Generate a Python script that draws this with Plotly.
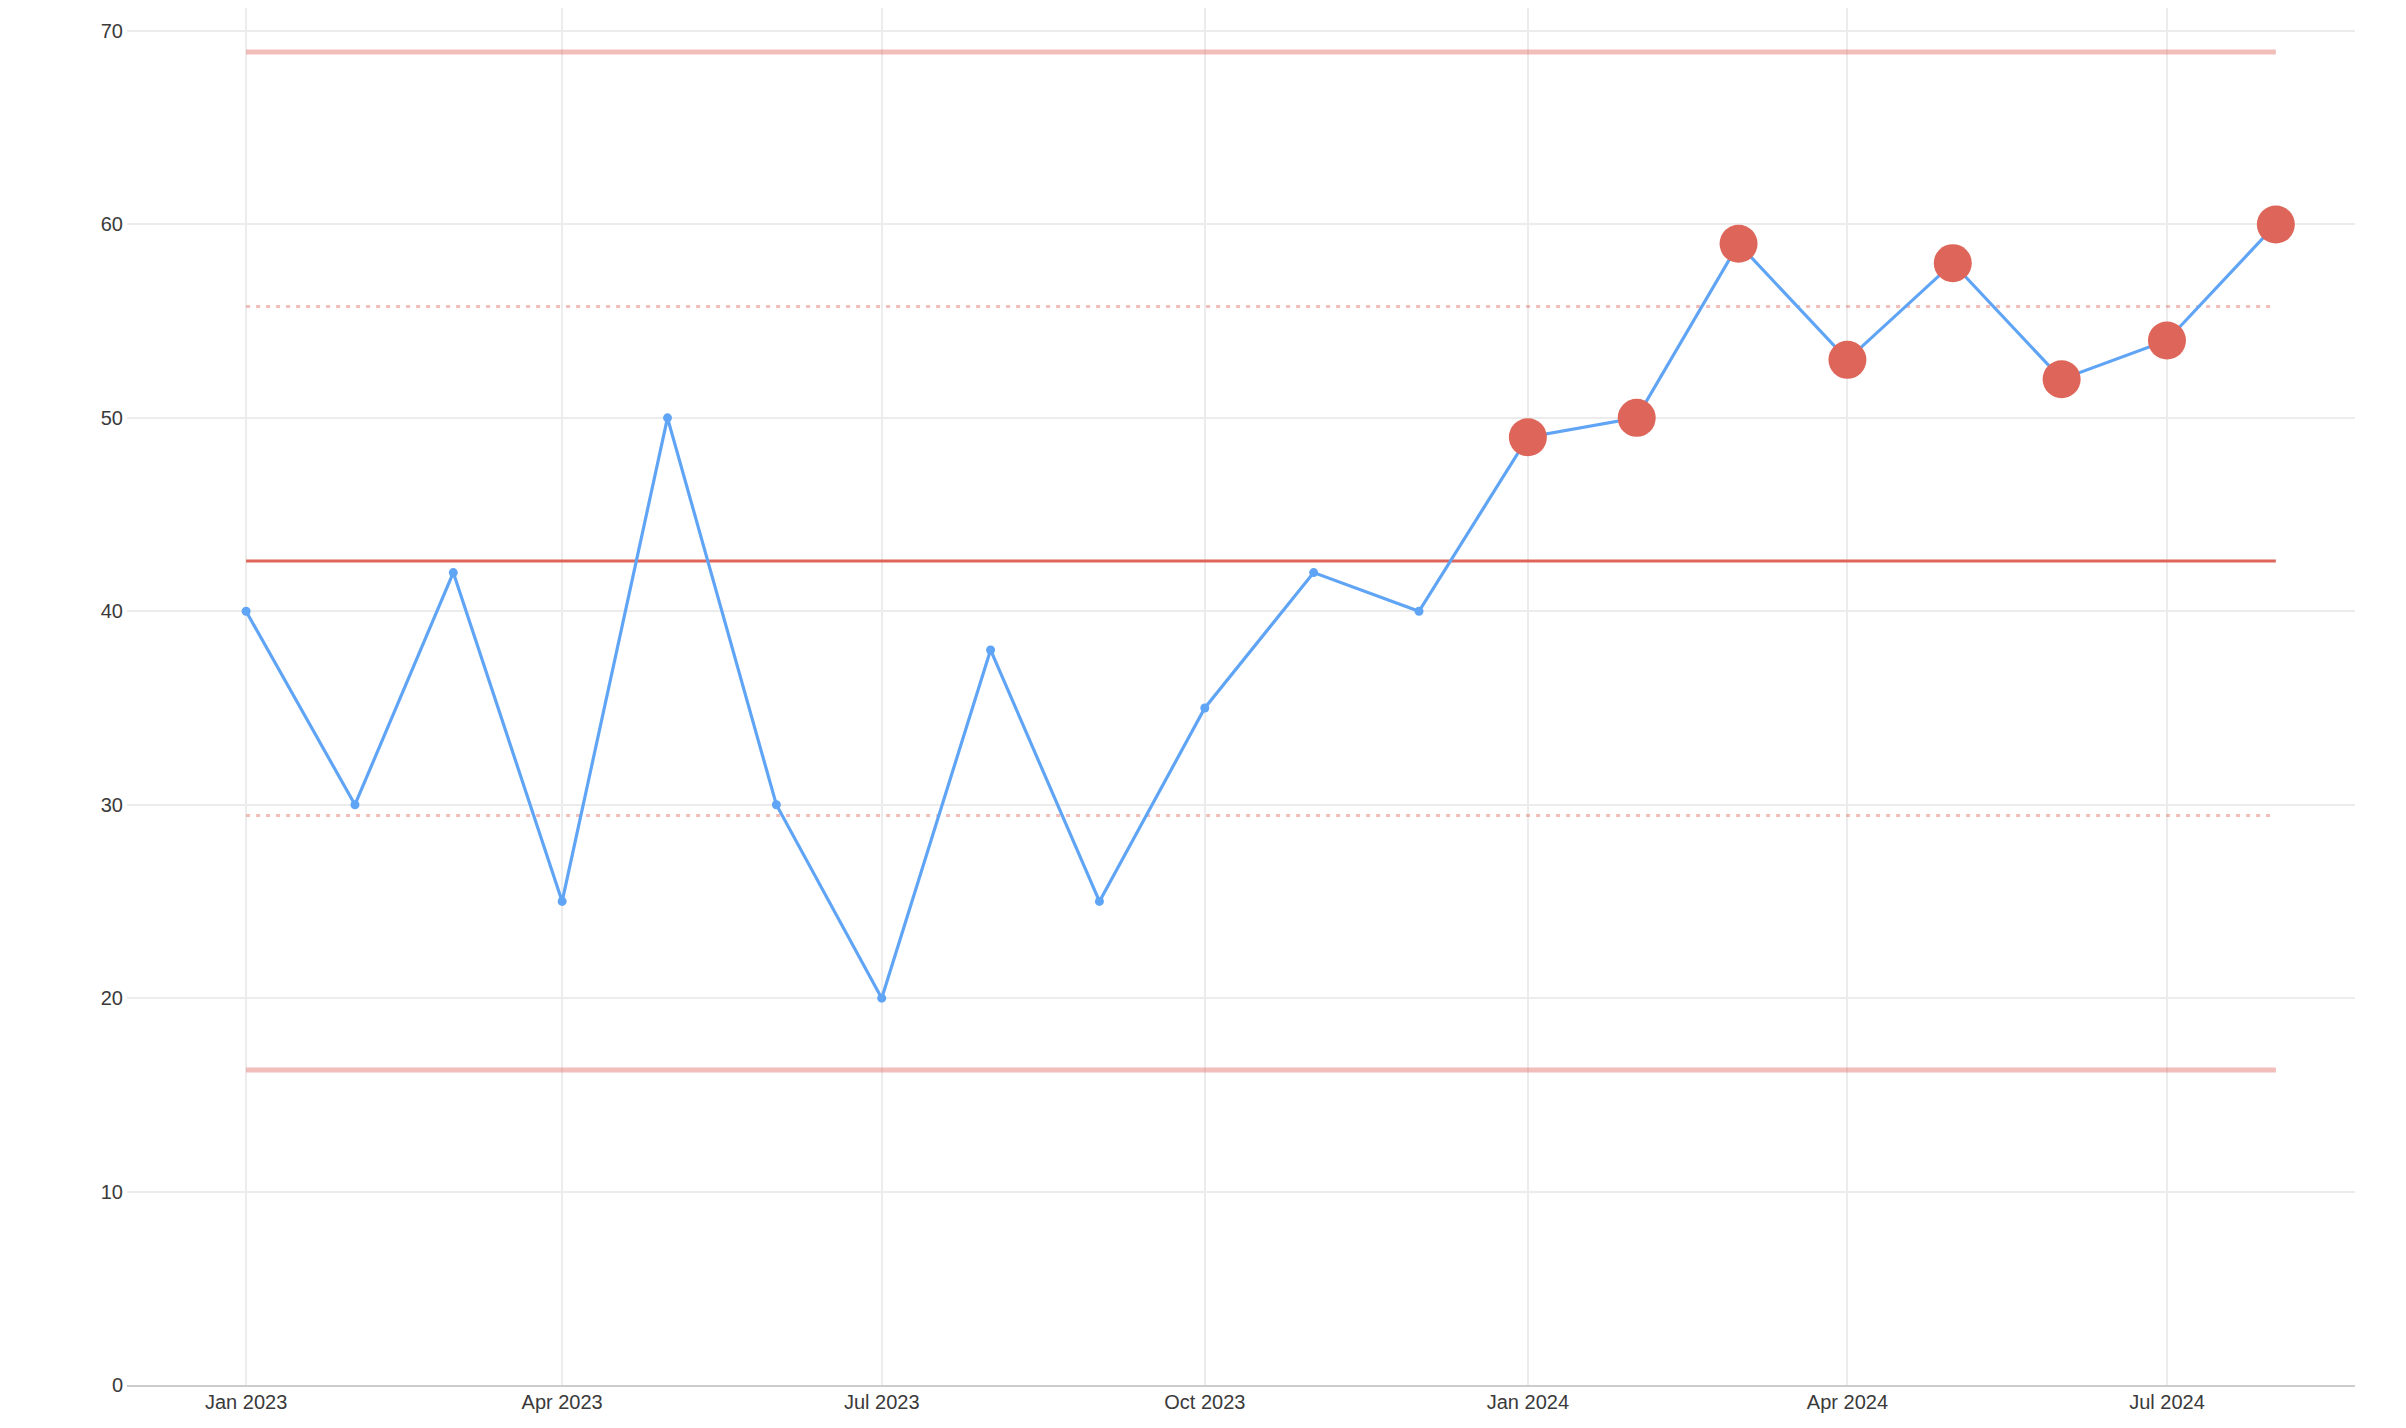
import plotly.graph_objects as go
import numpy as np
import pandas as pd

# ---- data ----
months = pd.date_range("2023-01-01", "2024-08-01", freq="MS")
values = [40, 30, 42, 25, 50, 30, 20, 38, 25, 35, 42, 40,
          49, 50, 59, 53, 58, 52, 54, 60]
y_ticks = [0, 10, 20, 30, 40, 50, 60, 70]

# ---- XmR statistics ----
vals = np.array(values, dtype=float)
mean = vals.mean()
mr_bar = np.abs(np.diff(vals)).mean()
sigma = mr_bar / 1.128
ucl = mean + 3 * sigma
lcl = mean - 3 * sigma
upper_mid = mean + 1.5 * sigma
lower_mid = mean - 1.5 * sigma

# run rule: 8+ consecutive points on the same side of the centre line
side = np.sign(vals - mean)
flag = np.zeros(len(vals), dtype=bool)
start = 0
for i in range(1, len(vals) + 1):
    if i == len(vals) or side[i] != side[start]:
        if i - start >= 8:
            flag[start:i] = True
        start = i

flag_x = [m for m, f in zip(months, flag) if f]
flag_y = [v for v, f in zip(values, flag) if f]

RED = "#DE6559"
PALE = "rgba(222,101,89,0.42)"
BLUE = "#60A5F5"

fig = go.Figure()
x_ends = [months[0], months[-1]]

for lvl, color, width, dash in [
    (ucl, PALE, 5, "solid"),
    (lcl, PALE, 5, "solid"),
    (upper_mid, PALE, 3, "4px,6px"),
    (lower_mid, PALE, 3, "4px,6px"),
    (mean, RED, 3, "solid"),
]:
    fig.add_trace(go.Scatter(x=x_ends, y=[lvl, lvl], mode="lines",
                             line=dict(color=color, width=width, dash=dash),
                             hoverinfo="skip", showlegend=False))

fig.add_trace(go.Scatter(x=months, y=values, mode="lines+markers",
                         line=dict(color=BLUE, width=3.2),
                         marker=dict(color=BLUE, size=9),
                         showlegend=False))

fig.add_trace(go.Scatter(x=flag_x, y=flag_y, mode="markers",
                         marker=dict(color=RED, size=38, line=dict(width=0)),
                         showlegend=False))

fig.update_layout(
    width=2390, height=1412,
    margin=dict(l=119, r=43, t=0, b=35),
    plot_bgcolor="white", paper_bgcolor="white",
    font=dict(family="Liberation Sans, Arial, sans-serif", size=20, color="#3a3a3a"),
    showlegend=False,
)
fig.update_xaxes(
    type="date",
    range=["2022-11-28 02:00", "2024-08-23 13:00"],
    dtick="M3", tick0="2023-01-01", tickformat="%b %Y",
    showgrid=True, gridcolor="#ECECEC", gridwidth=2,
    showline=True, linecolor="#CCCCCC", linewidth=2,
    ticks="", zeroline=False,
    ticklabelstandoff=-2,
)
fig.update_yaxes(
    range=[0, 71.19],
    tickvals=y_ticks,
    showgrid=True, gridcolor="#ECECEC", gridwidth=2,
    showline=False, zeroline=False, ticks="",
    ticklabelstandoff=3,
)

fig.write_html("out.html")
